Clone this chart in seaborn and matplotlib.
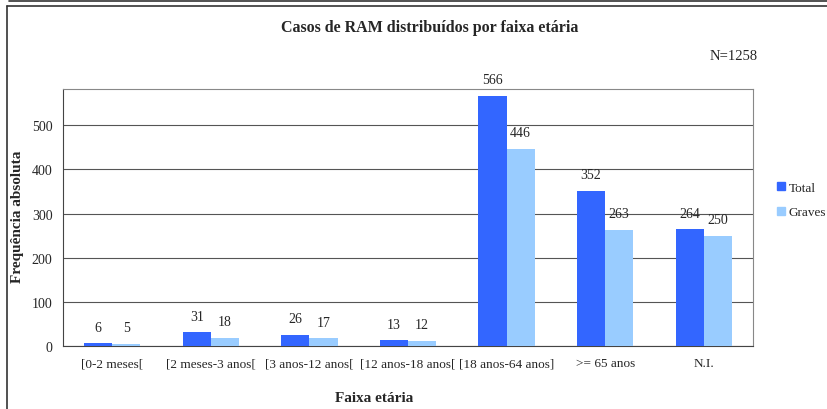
import numpy as np
import pandas as pd
import matplotlib
matplotlib.use("Agg")
import matplotlib.pyplot as plt
import seaborn as sns
from matplotlib.lines import Line2D

# Data
categories = ["[0-2 meses[", "[2 meses-3 anos[", "[3 anos-12 anos[",
              "[12 anos-18 anos[", "[18 anos-64 anos]", ">= 65 anos", "N.I."]
total = [6, 31, 26, 13, 566, 352, 264]
graves = [5, 18, 17, 12, 446, 263, 250]
series = ["Total", "Graves"]
colors = ["#3366FF", "#99CCFF"]

df = pd.DataFrame({
    "Faixa": categories * 2,
    "Serie": [series[0]] * len(categories) + [series[1]] * len(categories),
    "Valor": total + graves,
})

sns.set_style("white")
plt.rcParams["font.family"] = ["Liberation Serif", "DejaVu Serif"]

fig = plt.figure(figsize=(8.28, 4.10), dpi=100)
ax = fig.add_axes([63 / 828, 1 - 347 / 410, (753 - 63) / 828, (347 - 90) / 410])

sns.barplot(data=df, x="Faixa", y="Valor", hue="Serie", palette=colors,
            width=0.57, gap=0, saturation=1, linewidth=0, ax=ax,
            legend=False, zorder=3)

ax.set_ylim(0, 582)
ax.set_xlim(-0.5, len(categories) - 0.5)
ax.set_yticks(range(0, 600, 100))
ax.yaxis.grid(True, color="#555555", linewidth=0.8, zorder=0)
ax.set_axisbelow(True)
for s in ["left", "bottom", "top", "right"]:
    ax.spines[s].set_visible(True)
    ax.spines[s].set_color("#888888")
    ax.spines[s].set_linewidth(0.8)
ax.spines["bottom"].set_color("#444444")
ax.spines["left"].set_color("#444444")

ax.tick_params(axis="x", which="major", length=0, labelsize=9.5, pad=8)
ax.set_xticks(np.arange(-0.5, len(categories)), minor=True)
ax.tick_params(axis="x", which="minor", length=5, color="#444444")
ax.tick_params(axis="y", length=4, labelsize=10, color="#444444", direction="out")
ax.set_xlabel("")
ax.set_ylabel("")

for cont in ax.containers:
    ax.bar_label(cont, padding=7, fontsize=10)

fig.text(430 / 828, 1 - 28 / 410, "Casos de RAM distribuídos por faixa etária",
         ha="center", va="center", fontsize=11.5, fontweight="bold")
fig.text(758 / 828, 1 - 57 / 410, "N=1258", ha="right", va="center", fontsize=10.5)
fig.text(18 / 828, 1 - 217 / 410, "Frequência absoluta", rotation=90,
         ha="center", va="center", fontsize=11, fontweight="bold")
fig.text(374 / 828, 1 - 399 / 410, "Faixa etária", ha="center", va="center",
         fontsize=11, fontweight="bold")

handles = [Line2D([0], [0], marker="s", linestyle="", markersize=6,
                  markerfacecolor=c, markeredgecolor=c) for c in colors]
fig.legend(handles, series, loc="center left", bbox_to_anchor=(770 / 828, 1 - 201 / 410),
           frameon=False, fontsize=9.5, handletextpad=0.3, labelspacing=0.9,
           handlelength=0.6, borderpad=0)

# outer frames
fig.add_artist(Line2D([7 / 828, 7 / 828], [0, 1 - 7 / 410], transform=fig.transFigure,
                      color="#333333", linewidth=1.2))
fig.add_artist(Line2D([7 / 828, 1], [1 - 7 / 410, 1 - 7 / 410], transform=fig.transFigure,
                      color="#333333", linewidth=1.2))
fig.add_artist(Line2D([9 / 828, 1], [1 - 2 / 410, 1 - 2 / 410], transform=fig.transFigure,
                      color="#333333", linewidth=1.2))

fig.savefig("out.png", dpi=100)
